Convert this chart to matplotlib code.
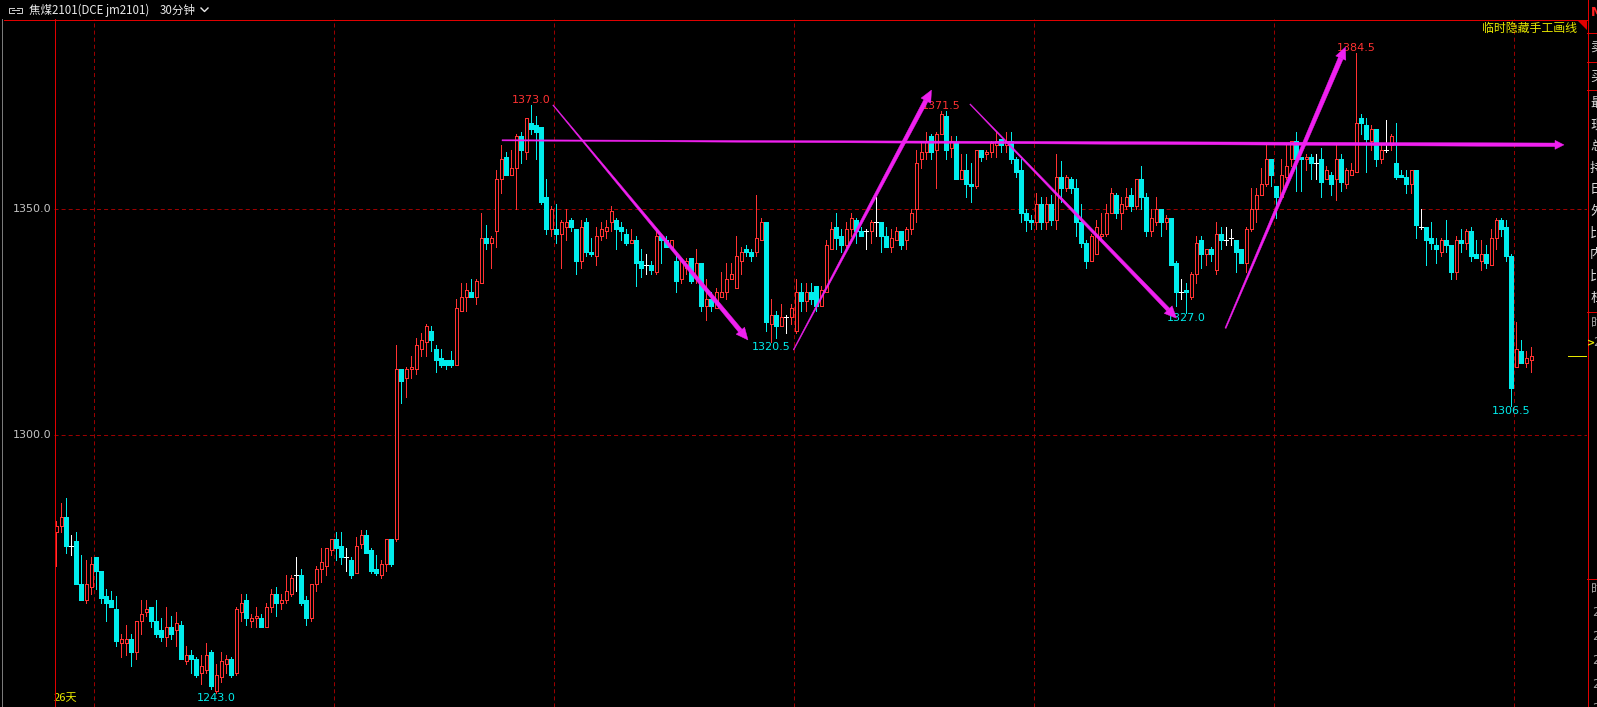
import matplotlib
matplotlib.use("Agg")
import matplotlib.pyplot as plt
import numpy as np
from matplotlib.collections import LineCollection, PolyCollection
from matplotlib.patches import Polygon

# 30-minute bars, jm2101
opens = [
    1278.5, 1280.0, 1282.0, 1275.5, 1276.5, 1267.0, 1263.5, 1266.5, 1273.0, 1270.0,
    1264.5, 1263.5, 1261.5, 1254.0, 1254.0, 1255.0, 1252.0, 1259.0, 1261.0, 1262.0,
    1259.0, 1257.0, 1255.5, 1257.5, 1257.0, 1258.0, 1250.0, 1251.5, 1250.5, 1247.5,
    1248.0, 1252.0, 1243.5, 1246.5, 1249.5, 1250.5, 1247.5, 1261.0, 1263.5, 1259.0,
    1259.5, 1259.5, 1257.5, 1262.0, 1265.0, 1263.0, 1263.5, 1265.0, 1269.0, 1269.0,
    1263.5, 1259.5, 1267.0, 1270.5, 1271.0, 1274.5, 1277.0, 1275.5, 1273.0, 1272.5,
    1269.5, 1276.0, 1278.0, 1274.5, 1270.5, 1269.0, 1271.5, 1277.0, 1277.0, 1314.5,
    1312.5, 1314.5, 1314.5, 1319.0, 1320.5, 1323.0, 1319.0, 1317.0, 1316.5, 1316.5,
    1315.5, 1327.5, 1330.5, 1331.5, 1330.5, 1333.5, 1343.5, 1342.5, 1345.0, 1356.5,
    1361.5, 1357.5, 1359.0, 1366.0, 1362.5, 1369.0, 1368.5, 1368.0, 1352.5, 1345.5,
    1345.5, 1344.5, 1346.0, 1347.5, 1345.5, 1338.5, 1347.0, 1340.5, 1339.5, 1344.0,
    1345.0, 1347.0, 1347.5, 1346.0, 1344.5, 1342.5, 1343.0, 1338.5, 1337.5, 1337.5,
    1336.0, 1344.0, 1343.0, 1341.5, 1338.5, 1334.5, 1337.0, 1339.0, 1335.0, 1338.0,
    1328.5, 1330.0, 1328.0, 1330.5, 1331.5, 1334.5, 1332.5, 1338.5, 1341.0, 1340.5,
    1340.5, 1343.0, 1347.0, 1324.5, 1326.5, 1324.0, 1326.0, 1326.0, 1323.0, 1331.5,
    1329.5, 1331.5, 1333.0, 1328.5, 1331.5, 1341.0, 1346.0, 1344.0, 1342.0, 1345.5,
    1347.5, 1345.0, 1345.0, 1345.0, 1347.0, 1347.0, 1344.0, 1341.5, 1343.0, 1345.0,
    1343.0, 1345.5, 1350.0, 1361.0, 1362.5, 1366.0, 1363.0, 1366.5, 1370.5, 1363.5,
    1364.5, 1356.5, 1358.5, 1355.5, 1355.0, 1363.0, 1362.0, 1362.5, 1364.0, 1365.5,
    1364.0, 1365.0, 1361.0, 1358.5, 1349.0, 1347.5, 1347.0, 1351.0, 1347.0, 1351.0,
    1347.5, 1357.0, 1354.5, 1356.5, 1354.5, 1347.0, 1342.5, 1338.5, 1340.0, 1344.0,
    1344.5, 1349.0, 1353.0, 1349.0, 1350.5, 1353.0, 1350.5, 1356.5, 1352.5, 1345.0,
    1347.0, 1350.0, 1347.0, 1348.0, 1338.0, 1331.5, 1332.0, 1330.5, 1335.5, 1343.0,
    1340.0, 1341.0, 1336.5, 1344.5, 1343.0, 1343.5, 1343.0, 1341.0, 1338.0, 1345.5,
    1350.0, 1353.0, 1355.5, 1361.0, 1355.0, 1352.5, 1357.0, 1361.0, 1365.0, 1361.5,
    1361.0, 1361.5, 1360.0, 1361.0, 1356.5, 1357.5, 1356.5, 1361.0, 1355.5, 1357.5,
    1358.0, 1370.0, 1368.5, 1365.0, 1367.5, 1361.0, 1363.0, 1364.0, 1360.0, 1357.5,
    1357.0, 1355.5, 1358.5, 1346.0, 1346.0, 1343.5, 1342.0, 1340.5, 1343.0, 1342.0,
    1336.0, 1343.0, 1342.5, 1345.0, 1340.0, 1338.5, 1340.0, 1337.5, 1343.5, 1347.5,
    1346.0, 1339.5, 1315.0, 1318.5, 1316.0, 1316.5,
]
highs = [
    1281.0, 1285.0, 1286.0, 1278.0, 1278.5, 1273.5, 1272.5, 1273.0, 1273.0, 1270.0,
    1266.0, 1265.5, 1264.5, 1256.0, 1258.0, 1256.0, 1259.0, 1263.5, 1263.5, 1262.0,
    1263.5, 1259.5, 1262.0, 1260.0, 1261.0, 1259.0, 1253.5, 1252.5, 1251.0, 1251.5,
    1254.0, 1252.5, 1249.5, 1252.0, 1251.5, 1251.0, 1262.0, 1265.0, 1265.0, 1260.5,
    1262.0, 1260.5, 1263.0, 1266.0, 1266.5, 1265.0, 1269.0, 1269.0, 1273.0, 1270.5,
    1264.5, 1267.0, 1271.0, 1275.0, 1275.0, 1277.0, 1278.5, 1278.5, 1275.0, 1273.0,
    1277.5, 1279.0, 1279.0, 1275.0, 1273.5, 1272.5, 1277.0, 1277.0, 1320.0, 1314.5,
    1315.0, 1317.5, 1321.5, 1322.5, 1324.5, 1324.0, 1320.0, 1319.0, 1316.5, 1318.5,
    1330.0, 1333.5, 1333.5, 1334.5, 1334.5, 1349.0, 1346.5, 1344.0, 1358.5, 1364.0,
    1362.5, 1363.0, 1366.5, 1367.0, 1370.0, 1373.0, 1370.5, 1368.0, 1356.5, 1350.5,
    1351.0, 1347.5, 1350.0, 1348.0, 1345.5, 1347.5, 1348.0, 1343.5, 1346.0, 1347.0,
    1347.5, 1350.5, 1348.0, 1347.0, 1345.5, 1345.5, 1344.0, 1341.0, 1340.0, 1338.5,
    1345.5, 1344.0, 1344.0, 1343.0, 1339.5, 1338.5, 1339.0, 1339.0, 1341.0, 1338.0,
    1334.5, 1331.5, 1332.5, 1336.0, 1338.0, 1338.0, 1344.0, 1341.5, 1342.0, 1341.0,
    1353.0, 1348.0, 1347.0, 1330.0, 1327.5, 1329.0, 1326.5, 1329.0, 1334.5, 1333.5,
    1333.5, 1333.5, 1333.0, 1333.0, 1343.0, 1347.0, 1349.0, 1345.5, 1347.0, 1349.0,
    1348.0, 1346.0, 1345.5, 1347.5, 1352.5, 1347.0, 1346.0, 1345.5, 1346.0, 1345.0,
    1346.0, 1350.0, 1363.0, 1365.0, 1367.0, 1366.5, 1367.0, 1371.5, 1371.5, 1366.0,
    1366.0, 1362.0, 1362.0, 1360.0, 1363.0, 1363.0, 1363.0, 1365.0, 1367.0, 1365.5,
    1367.0, 1367.0, 1361.5, 1361.0, 1350.0, 1348.5, 1353.5, 1352.5, 1352.5, 1353.0,
    1362.0, 1360.5, 1357.5, 1357.0, 1356.5, 1351.0, 1343.0, 1344.5, 1347.5, 1349.0,
    1351.0, 1354.5, 1353.5, 1352.5, 1354.5, 1354.5, 1356.5, 1359.5, 1353.5, 1350.0,
    1352.5, 1350.0, 1348.5, 1348.0, 1338.5, 1334.5, 1333.5, 1336.0, 1344.0, 1344.0,
    1341.0, 1341.5, 1347.0, 1346.0, 1346.0, 1345.5, 1343.0, 1341.0, 1346.0, 1354.5,
    1354.5, 1359.0, 1364.5, 1361.0, 1355.0, 1361.0, 1364.0, 1365.0, 1367.0, 1361.5,
    1362.0, 1362.0, 1362.0, 1363.5, 1359.5, 1358.0, 1364.0, 1362.0, 1359.0, 1360.0,
    1384.5, 1371.0, 1370.0, 1368.5, 1367.5, 1364.0, 1369.5, 1366.5, 1369.0, 1358.5,
    1358.5, 1358.5, 1358.5, 1350.0, 1346.0, 1347.0, 1343.5, 1343.5, 1347.5, 1342.0,
    1344.0, 1345.5, 1345.5, 1346.0, 1343.0, 1343.0, 1342.0, 1345.5, 1348.0, 1348.0,
    1347.5, 1340.0, 1325.0, 1321.0, 1318.5, 1319.5,
]
lows = [
    1271.0, 1278.5, 1274.0, 1273.5, 1267.0, 1263.5, 1263.0, 1265.0, 1266.0, 1263.0,
    1259.0, 1262.0, 1253.5, 1251.0, 1251.5, 1249.0, 1250.5, 1256.0, 1260.0, 1257.5,
    1255.5, 1254.5, 1253.5, 1255.0, 1253.5, 1250.5, 1249.5, 1247.5, 1246.5, 1245.0,
    1247.5, 1244.0, 1243.0, 1245.5, 1247.5, 1246.5, 1247.0, 1259.0, 1258.0, 1257.5,
    1257.5, 1257.5, 1257.5, 1261.0, 1260.0, 1261.5, 1263.0, 1264.5, 1265.5, 1262.5,
    1258.0, 1259.0, 1265.5, 1267.5, 1269.0, 1273.5, 1272.5, 1271.5, 1270.0, 1268.5,
    1269.5, 1275.0, 1274.0, 1269.5, 1269.0, 1268.5, 1270.0, 1271.0, 1276.5, 1307.0,
    1308.5, 1312.5, 1313.5, 1317.5, 1317.5, 1318.5, 1314.0, 1315.0, 1314.5, 1315.0,
    1315.5, 1327.5, 1327.5, 1330.5, 1329.0, 1333.5, 1341.0, 1337.0, 1341.5, 1353.5,
    1357.5, 1357.5, 1350.0, 1360.0, 1361.0, 1366.5, 1361.0, 1351.0, 1344.5, 1344.0,
    1342.5, 1337.0, 1343.0, 1345.0, 1335.5, 1337.0, 1339.5, 1339.5, 1337.5, 1343.0,
    1343.5, 1345.0, 1341.0, 1343.0, 1342.0, 1342.5, 1333.0, 1335.0, 1335.5, 1335.5,
    1335.5, 1338.0, 1341.5, 1341.5, 1331.5, 1333.5, 1335.5, 1333.5, 1333.5, 1327.5,
    1325.5, 1327.5, 1328.0, 1330.5, 1330.0, 1334.5, 1332.5, 1335.5, 1339.5, 1338.5,
    1339.5, 1343.0, 1323.0, 1320.5, 1321.5, 1324.0, 1322.5, 1324.5, 1322.5, 1327.5,
    1327.5, 1329.0, 1327.5, 1328.5, 1331.5, 1341.0, 1341.0, 1340.5, 1341.5, 1344.0,
    1342.5, 1344.0, 1341.0, 1342.5, 1344.0, 1340.5, 1341.5, 1340.5, 1343.0, 1341.0,
    1341.0, 1344.5, 1347.0, 1359.0, 1361.0, 1361.0, 1354.5, 1366.5, 1361.0, 1361.5,
    1356.5, 1356.5, 1352.5, 1351.5, 1354.5, 1360.5, 1361.0, 1361.5, 1361.5, 1362.5,
    1362.5, 1360.0, 1357.0, 1347.0, 1345.0, 1345.5, 1345.5, 1345.5, 1345.5, 1346.5,
    1345.5, 1351.5, 1354.0, 1353.5, 1344.0, 1341.5, 1337.0, 1338.5, 1340.0, 1343.5,
    1344.0, 1349.0, 1348.0, 1345.5, 1350.0, 1349.5, 1350.0, 1350.0, 1344.0, 1344.0,
    1346.5, 1344.0, 1345.5, 1337.5, 1328.5, 1330.0, 1327.0, 1330.0, 1333.5, 1337.0,
    1337.5, 1338.5, 1335.5, 1341.0, 1342.0, 1342.0, 1336.0, 1338.0, 1336.0, 1345.0,
    1347.0, 1353.0, 1355.0, 1355.0, 1348.0, 1352.5, 1356.5, 1359.5, 1354.0, 1354.0,
    1358.5, 1356.5, 1356.5, 1352.5, 1356.5, 1353.0, 1352.0, 1354.0, 1354.5, 1357.5,
    1358.0, 1366.5, 1358.0, 1363.0, 1359.5, 1360.0, 1362.5, 1363.0, 1356.5, 1357.0,
    1353.5, 1353.5, 1343.5, 1345.5, 1337.5, 1341.0, 1338.0, 1339.5, 1340.5, 1334.5,
    1334.5, 1340.5, 1341.0, 1338.5, 1339.0, 1336.5, 1337.0, 1337.5, 1341.0, 1344.0,
    1338.5, 1306.5, 1315.0, 1316.0, 1315.0, 1314.0,
]
closes = [
    1280.0, 1282.0, 1275.5, 1275.5, 1267.0, 1263.5, 1267.0, 1271.5, 1270.0, 1264.0,
    1263.0, 1262.0, 1254.5, 1255.0, 1255.0, 1252.0, 1259.0, 1260.5, 1261.5, 1259.0,
    1256.0, 1255.5, 1257.5, 1256.0, 1258.5, 1250.5, 1251.5, 1250.5, 1247.0, 1249.0,
    1251.5, 1244.5, 1247.0, 1250.0, 1250.5, 1247.0, 1261.5, 1263.0, 1259.5, 1259.5,
    1260.0, 1257.5, 1262.0, 1265.0, 1263.0, 1263.5, 1265.5, 1268.5, 1269.0, 1263.0,
    1259.5, 1267.0, 1270.5, 1272.0, 1275.0, 1277.0, 1275.0, 1273.0, 1273.0, 1269.0,
    1275.5, 1278.0, 1274.0, 1270.0, 1269.5, 1271.5, 1277.0, 1271.5, 1314.5, 1312.0,
    1314.5, 1315.0, 1320.0, 1321.0, 1324.0, 1321.0, 1316.5, 1315.5, 1315.5, 1315.5,
    1328.0, 1330.5, 1332.0, 1330.5, 1334.0, 1343.5, 1342.5, 1343.5, 1356.5, 1361.0,
    1357.5, 1359.0, 1366.0, 1363.0, 1370.0, 1367.5, 1367.0, 1351.5, 1345.5, 1350.0,
    1344.5, 1347.0, 1347.0, 1346.0, 1338.5, 1346.0, 1340.5, 1340.0, 1344.0, 1345.5,
    1346.0, 1349.5, 1345.5, 1345.0, 1342.5, 1343.0, 1338.0, 1337.0, 1337.5, 1336.5,
    1344.0, 1343.0, 1341.5, 1343.0, 1334.0, 1338.5, 1338.5, 1334.0, 1338.0, 1328.5,
    1330.0, 1328.5, 1331.5, 1331.5, 1334.5, 1335.5, 1339.5, 1340.5, 1340.5, 1339.5,
    1343.5, 1347.0, 1325.0, 1326.5, 1324.0, 1326.0, 1326.0, 1328.0, 1331.5, 1329.5,
    1331.5, 1330.0, 1328.5, 1332.0, 1342.0, 1345.5, 1343.5, 1342.0, 1345.5, 1348.0,
    1345.0, 1344.0, 1345.0, 1347.0, 1347.0, 1344.0, 1341.5, 1343.5, 1345.0, 1342.0,
    1345.5, 1349.0, 1360.0, 1362.5, 1365.0, 1362.5, 1366.5, 1371.0, 1363.0, 1365.0,
    1356.5, 1358.5, 1355.5, 1355.0, 1363.0, 1361.5, 1362.5, 1364.5, 1365.0, 1364.0,
    1365.0, 1361.0, 1358.0, 1349.0, 1347.5, 1347.0, 1351.0, 1347.0, 1351.0, 1347.5,
    1357.0, 1354.5, 1357.0, 1354.5, 1347.0, 1342.5, 1338.5, 1344.0, 1346.0, 1344.5,
    1349.0, 1353.5, 1349.0, 1351.0, 1352.5, 1350.5, 1356.5, 1352.5, 1345.0, 1348.0,
    1350.0, 1347.0, 1348.0, 1337.5, 1331.5, 1331.5, 1331.5, 1335.5, 1342.5, 1340.0,
    1341.0, 1340.0, 1344.5, 1343.0, 1343.0, 1343.5, 1340.5, 1338.0, 1345.5, 1350.0,
    1353.0, 1355.5, 1361.0, 1357.5, 1352.5, 1357.5, 1359.5, 1365.0, 1361.0, 1361.0,
    1361.5, 1360.0, 1360.0, 1356.0, 1358.5, 1355.5, 1361.0, 1356.0, 1358.5, 1358.5,
    1369.0, 1369.0, 1365.5, 1367.5, 1361.0, 1363.0, 1363.0, 1366.0, 1357.0, 1357.0,
    1355.5, 1358.5, 1346.5, 1346.0, 1343.0, 1342.5, 1341.0, 1343.0, 1342.0, 1336.0,
    1343.0, 1342.5, 1345.0, 1339.5, 1339.0, 1340.0, 1338.0, 1343.5, 1347.5, 1345.5,
    1339.5, 1310.5, 1319.0, 1316.0, 1317.0, 1317.5,
]

session_starts = [8, 56, 100, 148, 196, 244, 292]
price_levels = [1350.0, 1300.0]
marked_highs = [95, 177, 260]
marked_lows = [32, 143, 226, 291]

# hand-drawn trend lines: (bar, price) -> (bar, price)
trend_start_bar = [99.4, 147.5, 182.8, 233.9, 89.2]
trend_start_price = [1372.9, 1318.8, 1373.1, 1323.6, 1365.1]
trend_end_bar = [138.4, 175.1, 224.1, 257.9, 301.6]
trend_end_price = [1321.0, 1376.2, 1325.8, 1385.7, 1364.1]

title_name = "焦煤2101(DCE jm2101)"
title_period = "30分钟"
hide_text = "临时隐藏手工画线"
days_text = "26天"
side_labels = ["最", "现", "总", "持", "日", "外", "比", "内", "比", "杠"]

UP = "#ff3232"
DOWN = "#00ecec"
FLAT = "#ffffff"
GRID = "#9a0000"
BORDER = "#e00000"
MAGENTA = "#f020f0"
YELLOW = "#e8e800"
CJK = ["Noto Sans CJK SC", "DejaVu Sans"]

plt.rcParams["lines.scale_dashes"] = False

W, H = 1597, 707
fig = plt.figure(figsize=(W / 100, H / 100), dpi=100, facecolor="black")
ax = fig.add_axes([54 / W, 0, (1587 - 54) / W, (H - 19) / H])
ax.set_facecolor("black")
ax.set_xlim(-0.4, 306.2)
ax.set_ylim(1239.93, 1391.90)
for spine in ax.spines.values():
    spine.set_visible(False)
ax.set_xticks([])
ax.set_yticks([])

px = 0.72  # one pixel in points
for level in price_levels:
    ax.axhline(level, color=GRID, lw=px, dashes=(2.9, 2.2), zorder=1)
    ax.text(-0.9, level, f"{level:.1f}", color="#c4c4c4", fontsize=8,
            ha="right", va="center", clip_on=False)
for start in session_starts:
    ax.axvline(start - 0.4, color=GRID, lw=px, dashes=(2.9, 2.2), zorder=1)

o = np.asarray(opens)
h = np.asarray(highs)
l = np.asarray(lows)
c = np.asarray(closes)
idx = np.arange(len(o))

wick_segs, wick_cols = [], []
up_boxes, down_boxes, flat_ticks = [], [], []
for i in idx:
    top, bot = max(o[i], c[i]), min(o[i], c[i])
    if c[i] > o[i]:
        wick_segs += [[(i, h[i]), (i, top)], [(i, bot), (i, l[i])]]
        wick_cols += [UP, UP]
        up_boxes.append([(i - 0.3, bot), (i + 0.3, bot), (i + 0.3, top), (i - 0.3, top)])
    elif c[i] < o[i]:
        wick_segs.append([(i, h[i]), (i, l[i])])
        wick_cols.append(DOWN)
        down_boxes.append([(i - 0.35, bot), (i + 0.35, bot), (i + 0.35, top), (i - 0.35, top)])
    else:
        wick_segs.append([(i, h[i]), (i, l[i])])
        wick_cols.append(FLAT)
        flat_ticks.append([(i - 0.35, c[i]), (i + 0.35, c[i])])

ax.add_collection(LineCollection(wick_segs, colors=wick_cols, linewidths=px,
                                 antialiaseds=False, zorder=3))
ax.add_collection(LineCollection(flat_ticks, colors=FLAT, linewidths=px,
                                 antialiaseds=False, zorder=3))
ax.add_collection(PolyCollection(up_boxes, facecolors="black", edgecolors=UP,
                                 linewidths=px, antialiaseds=False, zorder=4))
ax.add_collection(PolyCollection(down_boxes, facecolors=DOWN, edgecolors=DOWN,
                                 linewidths=0.4, antialiaseds=False, zorder=4))

for i in marked_highs:
    ax.text(i, h[i], f"{h[i]:.1f}", color=UP, fontsize=8, ha="center", va="bottom", zorder=5)
for i in marked_lows:
    ax.text(i, l[i], f"{l[i]:.1f}", color=DOWN, fontsize=8, ha="center", va="top", zorder=5)

ax.axhline(c[-1], xmin=0.9876, xmax=1.0, color=YELLOW, lw=px)
ax.text(0.0, 0.013, days_text, transform=ax.transAxes, color=YELLOW, fontsize=8,
        family=CJK, ha="left", va="center")

# overlay in screen pixels (y grows downwards)
deco = fig.add_axes([0, 0, 1, 1], zorder=5)
deco.set_xlim(0, W)
deco.set_ylim(H, 0)
deco.axis("off")
deco.patch.set_alpha(0)


def to_px(bar, price):
    x, y = ax.transData.transform((bar, price))
    return np.array([x, H - y])


def tapered_arrow(p0, p1, w0, w1, head_len, head_half):
    d = p1 - p0
    u = d / np.hypot(*d)
    n = np.array([-u[1], u[0]])
    base = p1 - u * head_len
    body = [p0 + n * w0 / 2, base + n * w1 / 2, base - n * w1 / 2, p0 - n * w0 / 2]
    deco.add_patch(Polygon(body, closed=True, fc=MAGENTA, ec=MAGENTA, lw=0.3))
    head = [p1, base + n * head_half, base - n * head_half]
    deco.add_patch(Polygon(head, closed=True, fc=MAGENTA, ec=MAGENTA, lw=0.3))


widths = [(0.8, 4.5), (0.8, 4.5), (0.8, 4.0), (1.2, 5.0), (1.2, 3.6)]
heads = [(12, 5.5), (12, 5.5), (12, 5.5), (12, 5.5), (9, 4.5)]
for k in range(len(trend_start_bar)):
    p0 = to_px(trend_start_bar[k], trend_start_price[k])
    p1 = to_px(trend_end_bar[k], trend_end_price[k])
    tapered_arrow(p0, p1, *widths[k], *heads[k])

# frame lines
deco.plot([4, 1587], [19.5, 19.5], color=BORDER, lw=px)
deco.plot([54.5, 54.5], [19, H], color=BORDER, lw=px)
deco.plot([1.5, 1.5], [19, H], color="#7a7a7a", lw=px)
deco.plot([1587.5, 1587.5], [0, H], color=BORDER, lw=px)
for y in [32, 61, 89, 311, 578]:
    deco.plot([1587, W], [y + 0.5, y + 0.5], color=BORDER, lw=px)
deco.add_patch(Polygon([(1577, 19.5), (1587, 19.5), (1587, 29.5)], closed=True,
                       fc="#e00000", ec="none"))

# title bar
icon = "#c8c8c8"
deco.plot([14, 9, 9, 14], [7.5, 7.5, 12.5, 12.5], color=icon, lw=px)
deco.plot([17, 22, 22, 17], [7.5, 7.5, 12.5, 12.5], color=icon, lw=px)
deco.plot([12, 19], [10, 10], color=icon, lw=px)
deco.text(29, 10, title_name, color="#e8e8e8", fontsize=8.3, family=CJK, va="center")
deco.text(160, 10, title_period, color="#e8e8e8", fontsize=8.3, family=CJK, va="center")
deco.plot([201, 204.5, 208], [8, 11.5, 8], color="#e8e8e8", lw=1.0)

deco.text(1577, 28, hide_text, color=YELLOW, fontsize=8.6, family=CJK,
          ha="right", va="center")

# right-hand quote panel, cut off by the window edge
deco.text(1591, 12, "M", color="#ff2020", fontsize=9, fontweight="bold", va="center")
deco.text(1590, 47, "卖", color="#d8d8d8", fontsize=9.5, family=CJK, va="center")
deco.text(1590, 77, "买", color="#d8d8d8", fontsize=9.5, family=CJK, va="center")
for k, ch in enumerate(side_labels):
    deco.text(1590, 103 + 21.7 * k, ch, color="#d8d8d8", fontsize=9.5, family=CJK, va="center")
deco.text(1591, 323, "时", color="#a0a0a0", fontsize=9, family=CJK, va="center")
deco.text(1587.5, 343, ">", color=YELLOW, fontsize=7, fontweight="bold", va="center")
deco.text(1593.5, 343, "2", color="#a0a0a0", fontsize=8.5, va="center")
deco.text(1591, 590, "时", color="#a0a0a0", fontsize=9, family=CJK, va="center")
for y in [612, 636, 660, 685, 709]:
    deco.text(1592, y, "2", color="#a0a0a0", fontsize=8.5, va="center")

fig.savefig("out.png", dpi=100, facecolor="black")
